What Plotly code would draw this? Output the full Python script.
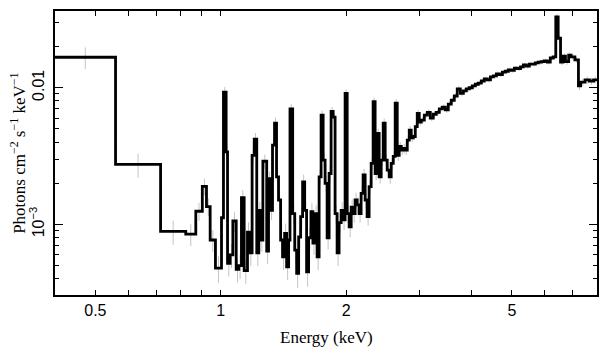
import math
import plotly.graph_objects as go

# Bin left edges (keV), upper edge of last bin, flux per bin and relative error per bin
e_lo = [
    0.400, 0.559, 0.717, 0.824, 0.871, 0.903, 0.924, 0.943, 0.971, 1.004,
    1.015, 1.030, 1.038, 1.053, 1.069, 1.089, 1.105, 1.121, 1.138, 1.159,
    1.172, 1.189, 1.203, 1.220, 1.234, 1.248, 1.262, 1.289, 1.302, 1.317,
    1.331, 1.346, 1.361, 1.376, 1.392, 1.407, 1.423, 1.439, 1.455, 1.466,
    1.488, 1.505, 1.521, 1.538, 1.555, 1.572, 1.590, 1.607, 1.625, 1.646,
    1.664, 1.684, 1.703, 1.722, 1.741, 1.761, 1.780, 1.800, 1.820, 1.840,
    1.861, 1.881, 1.902, 1.923, 1.945, 1.966, 1.988, 2.011, 2.033, 2.056,
    2.079, 2.101, 2.125, 2.148, 2.172, 2.196, 2.221, 2.245, 2.270, 2.296,
    2.321, 2.347, 2.373, 2.400, 2.427, 2.454, 2.481, 2.509, 2.537, 2.565,
    2.594, 2.622, 2.652, 2.681, 2.711, 2.741, 2.772, 2.803, 2.834, 2.865,
    2.897, 2.930, 2.962, 2.995, 3.029, 3.080, 3.131, 3.183, 3.236, 3.290,
    3.346, 3.402, 3.459, 3.516, 3.575, 3.635, 3.695, 3.759, 3.821, 3.885,
    3.950, 4.016, 4.083, 4.151, 4.220, 4.291, 4.362, 4.439, 4.513, 4.588,
    4.665, 4.743, 4.822, 4.902, 4.984, 5.067, 5.152, 5.242, 5.325, 5.414,
    5.504, 5.596, 5.689, 5.784, 5.880, 5.978, 6.078, 6.179, 6.282, 6.370,
    6.455, 6.540, 6.630, 6.720, 6.840, 6.930, 7.080, 7.220, 7.310, 7.490,
    7.670, 7.850,
]
e_max = 8.0

flux = [
    0.0167, 0.00275, 0.00089, 0.00085, 0.00125, 0.0019, 0.00135, 0.00077, 0.00048, 0.00112,
    0.0093, 0.0034, 0.00052, 0.0006, 0.00106, 0.00047, 0.0005, 0.00157, 0.00046, 0.00088,
    0.00062, 0.0032, 0.0042, 0.00062, 0.00127, 0.00077, 0.0029, 0.00064, 0.00216, 0.00127,
    0.0038, 0.0055, 0.00223, 0.00151, 0.00077, 0.00058, 0.00086, 0.00049, 0.00077, 0.0070,
    0.0012, 0.00065, 0.00044, 0.00081, 0.00114, 0.00205, 0.00127, 0.00045, 0.0008, 0.00124,
    0.00073, 0.0012, 0.00058, 0.00223, 0.0063, 0.00296, 0.0020, 0.0008, 0.00236, 0.0067,
    0.0061, 0.0012, 0.00062, 0.00103, 0.00127, 0.00108, 0.0091, 0.0012, 0.00096, 0.00134,
    0.0012, 0.00151, 0.00139, 0.0012, 0.00169, 0.0023, 0.00151, 0.00114, 0.00189, 0.0028,
    0.0079, 0.00236, 0.00464, 0.00223, 0.00296, 0.0055, 0.00296, 0.0025, 0.00223, 0.0028,
    0.00315, 0.0077, 0.0032, 0.00372, 0.0035, 0.0036, 0.0035, 0.00414, 0.0049, 0.0043,
    0.0044, 0.0052, 0.0065, 0.0056, 0.0058, 0.0063, 0.0066, 0.0060, 0.0064, 0.0066,
    0.0070, 0.0072, 0.0069, 0.0076, 0.0081, 0.0087, 0.0098, 0.0091, 0.0095, 0.0098,
    0.0100, 0.0103, 0.0106, 0.0108, 0.0112, 0.0116, 0.0114, 0.0120, 0.0122, 0.0126,
    0.0125, 0.0130, 0.0132, 0.0135, 0.0134, 0.0139, 0.0138, 0.0142, 0.0147, 0.0144,
    0.0149, 0.0149, 0.0152, 0.0154, 0.0155, 0.0157, 0.0154, 0.0165, 0.0168, 0.033,
    0.0230, 0.0154, 0.0170, 0.0155, 0.0173, 0.0168, 0.0160, 0.0103, 0.0110, 0.0114,
    0.0112, 0.0114,
]

rel_err = [
    0.18, 0.20, 0.20, 0.18, 0.15, 0.14, 0.15, 0.18, 0.22, 0.16,
    0.09, 0.12, 0.20, 0.20, 0.16, 0.20, 0.20, 0.14, 0.20, 0.18,
    0.20, 0.12, 0.11, 0.20, 0.15, 0.18, 0.12, 0.20, 0.13, 0.15,
    0.11, 0.10, 0.13, 0.15, 0.18, 0.20, 0.18, 0.20, 0.18, 0.08,
    0.15, 0.20, 0.22, 0.18, 0.16, 0.13, 0.15, 0.22, 0.18, 0.15,
    0.18, 0.15, 0.20, 0.13, 0.08, 0.12, 0.13, 0.18, 0.13, 0.08,
    0.08, 0.15, 0.20, 0.16, 0.15, 0.16, 0.07, 0.15, 0.16, 0.14,
    0.14, 0.13, 0.13, 0.14, 0.12, 0.11, 0.13, 0.14, 0.12, 0.10,
    0.07, 0.11, 0.08, 0.11, 0.10, 0.08, 0.10, 0.10, 0.11, 0.10,
    0.09, 0.07, 0.09, 0.08, 0.08, 0.08, 0.08, 0.07, 0.07, 0.07,
    0.06, 0.06, 0.06, 0.06, 0.05, 0.05, 0.05, 0.05, 0.05, 0.05,
    0.05, 0.05, 0.05, 0.05, 0.05, 0.05, 0.05, 0.05, 0.05, 0.05,
    0.04, 0.04, 0.04, 0.04, 0.04, 0.04, 0.04, 0.04, 0.04, 0.04,
    0.04, 0.04, 0.04, 0.04, 0.04, 0.04, 0.04, 0.04, 0.04, 0.04,
    0.04, 0.04, 0.04, 0.04, 0.04, 0.04, 0.04, 0.04, 0.04, 0.05,
    0.05, 0.05, 0.05, 0.05, 0.05, 0.05, 0.05, 0.07, 0.06, 0.06,
    0.06, 0.06,
]

x_tickvals = [0.5, 1, 2, 5]
x_ticktext = ["0.5", "1", "2", "5"]
x_minor = [0.6, 0.7, 0.8, 0.9, 3, 4, 6, 7]
y_tickvals = [0.001, 0.01]
y_ticktext = ["10<sup>\u22123</sup>", "0.01"]
y_minor = [0.0004, 0.0005, 0.0006, 0.0007, 0.0008, 0.0009,
           0.002, 0.003, 0.004, 0.005, 0.006, 0.007, 0.008, 0.009, 0.02, 0.03]
x_title = "Energy (keV)"
y_title = "Photons cm<sup>\u22122</sup> s<sup>\u22121</sup> keV<sup>\u22121</sup>"

assert len(e_lo) == len(flux) == len(rel_err)

e_hi = e_lo[1:] + [e_max]
e_mid = [math.sqrt(a * b) for a, b in zip(e_lo, e_hi)]
err = [f * r for f, r in zip(flux, rel_err)]

fig = go.Figure()
fig.add_trace(go.Scatter(
    x=e_mid, y=flux, mode="markers",
    marker=dict(size=0.1, color="rgba(0,0,0,0)"),
    error_y=dict(type="data", array=err, symmetric=True,
                 color="#c4c4c4", thickness=1, width=0),
    hoverinfo="skip", showlegend=False,
))
fig.add_trace(go.Scatter(
    x=e_lo + [e_max], y=flux + [flux[-1]], mode="lines",
    line=dict(shape="hv", color="black", width=2.8),
    showlegend=False,
))

tickfont = dict(family="Liberation Sans, Arial, sans-serif", size=16, color="black")
titlefont = dict(family="Liberation Serif, Times New Roman, serif", size=17, color="black")

fig.update_xaxes(
    type="log", range=[math.log10(0.4), math.log10(8.0)],
    tickvals=x_tickvals, ticktext=x_ticktext, automargin=False,
    ticks="inside", ticklen=5, tickwidth=1.2, tickcolor="black",
    minor=dict(tickvals=x_minor, ticks="inside", ticklen=5, tickwidth=1.2, tickcolor="black"),
    showline=True, linecolor="black", linewidth=1.5, mirror="allticks",
    showgrid=False, zeroline=False, tickfont=tickfont,
)
fig.update_yaxes(
    type="log", range=[math.log10(3.05e-4), math.log10(0.0364)],
    tickvals=y_tickvals, ticktext=y_ticktext, tickangle=-90, automargin=False,
    ticklabelstandoff=3,
    ticks="inside", ticklen=8, tickwidth=1.2, tickcolor="black",
    minor=dict(tickvals=y_minor, ticks="inside", ticklen=4, tickwidth=1.2, tickcolor="black"),
    showline=True, linecolor="black", linewidth=1.5, mirror="allticks",
    showgrid=False, zeroline=False, tickfont=tickfont,
)
fig.update_layout(
    width=601, height=349,
    margin=dict(l=47, r=12, t=3, b=62, autoexpand=False),
    paper_bgcolor="white", plot_bgcolor="white",
    annotations=[
        dict(text=x_title, xref="paper", yref="paper", x=0.5, y=-0.148,
             xanchor="center", yanchor="middle", showarrow=False, font=titlefont),
        dict(text=y_title, xref="paper", yref="paper", x=-0.0685, y=0.5,
             xanchor="center", yanchor="middle", textangle=-90, showarrow=False,
             font=titlefont, borderpad=0),
    ],
)
fig.write_html("out.html")
